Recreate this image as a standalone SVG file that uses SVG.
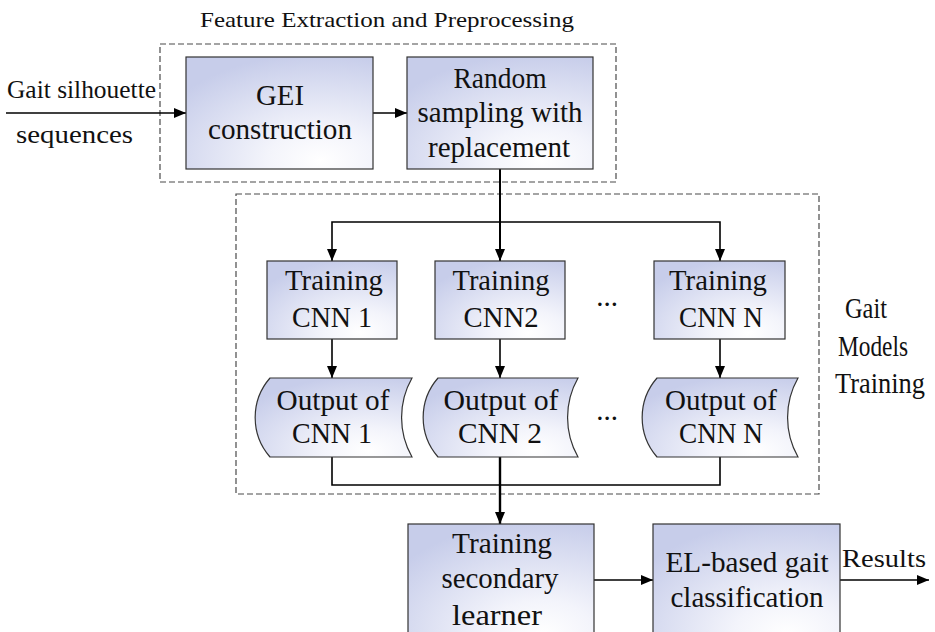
<svg xmlns="http://www.w3.org/2000/svg" width="935" height="632" viewBox="0 0 935 632">
<style>
  text { font-family: "Liberation Serif", "Times New Roman", serif; fill: #111; }
  .bt { font-size: 29px; text-anchor: middle; }
  .lbl { font-size: 26px; }
  .rl { font-size: 29px; text-anchor: middle; }
  .ttl { font-size: 21px; }
  .box { fill: url(#g); stroke: #333; stroke-width: 1.2; }
  .dash { fill: none; stroke: #4a4a4a; stroke-width: 1.2; stroke-dasharray: 6 3; }
  .ln { fill: none; stroke: #000; stroke-width: 1.6; }
  .ar { fill: none; stroke: #000; stroke-width: 1.6; marker-end: url(#ah); }
</style>
<defs>
  <radialGradient id="g" cx="0.72" cy="0.92" r="0.95" fx="0.72" fy="0.92">
    <stop offset="0" stop-color="#ffffff"/>
    <stop offset="0.3" stop-color="#f3f4fb"/>
    <stop offset="1" stop-color="#c7cdea"/>
  </radialGradient>
  <marker id="ah" viewBox="0 0 12 10" refX="12" refY="5" markerWidth="12" markerHeight="10" markerUnits="userSpaceOnUse" orient="auto">
    <path d="M0,0 L12,5 L0,10 Z" fill="#000"/>
  </marker>
</defs>

<g id="group-feature">
  <rect class="dash" x="160" y="44" width="456" height="138"/>
  <text class="ttl" x="200" y="27" textLength="374" lengthAdjust="spacingAndGlyphs">Feature Extraction and Preprocessing</text>
</g>
<g id="group-training">
  <rect class="dash" x="236" y="194" width="583" height="300"/>
  <text class="rl" x="866" y="318" textLength="42" lengthAdjust="spacingAndGlyphs">Gait</text>
  <text class="rl" x="873" y="356" textLength="70" lengthAdjust="spacingAndGlyphs">Models</text>
  <text class="rl" x="880" y="393" textLength="90" lengthAdjust="spacingAndGlyphs">Training</text>
</g>

<g id="input-label">
  <text class="lbl" x="7" y="98" textLength="149" lengthAdjust="spacingAndGlyphs">Gait silhouette</text>
  <text class="lbl" x="16" y="143" textLength="117" lengthAdjust="spacingAndGlyphs">sequences</text>
</g>

<g id="connectors">
  <line class="ar" x1="6" y1="113" x2="186" y2="113"/>
  <line class="ar" x1="373" y1="113" x2="407" y2="113"/>
  <line class="ar" x1="500" y1="169" x2="500" y2="261" style="stroke-width:2"/>
  <polyline class="ar" points="500,222 332,222 332,261"/>
  <polyline class="ar" points="500,222 720,222 720,261"/>
  <line class="ar" x1="332" y1="339" x2="332" y2="378"/>
  <line class="ar" x1="500" y1="339" x2="500" y2="378"/>
  <line class="ar" x1="720" y1="339" x2="720" y2="378"/>
  <polyline class="ln" points="332,457 332,485 720,485 720,457"/>
  <line class="ar" x1="500" y1="457" x2="500" y2="524" style="stroke-width:2.4"/>
  <line class="ar" x1="594" y1="580" x2="653" y2="580"/>
  <line class="ar" x1="840" y1="580" x2="929" y2="580"/>
</g>

<g id="gei">
  <rect class="box" x="186" y="57" width="187" height="112"/>
  <text class="bt" x="280" y="105" textLength="48" lengthAdjust="spacingAndGlyphs">GEI</text>
  <text class="bt" x="280" y="138.5" textLength="144" lengthAdjust="spacingAndGlyphs">construction</text>
</g>
<g id="random">
  <rect class="box" x="407" y="57" width="186" height="112"/>
  <text class="bt" x="500" y="87.5" textLength="93" lengthAdjust="spacingAndGlyphs">Random</text>
  <text class="bt" x="500" y="122" textLength="165" lengthAdjust="spacingAndGlyphs">sampling with</text>
  <text class="bt" x="499" y="156.5" textLength="142" lengthAdjust="spacingAndGlyphs">replacement</text>
</g>

<g id="train1">
  <rect class="box" x="267" y="261" width="130" height="78"/>
  <text class="bt" x="334" y="290" textLength="98" lengthAdjust="spacingAndGlyphs">Training</text>
  <text class="bt" x="332" y="326.5" textLength="80" lengthAdjust="spacingAndGlyphs">CNN 1</text>
</g>
<g id="train2">
  <rect class="box" x="435" y="261" width="130" height="78"/>
  <text class="bt" x="501" y="290" textLength="97" lengthAdjust="spacingAndGlyphs">Training</text>
  <text class="bt" x="501" y="326.5" textLength="75" lengthAdjust="spacingAndGlyphs">CNN2</text>
</g>
<g id="trainN">
  <rect class="box" x="654" y="261" width="131" height="78"/>
  <text class="bt" x="718" y="290" textLength="98" lengthAdjust="spacingAndGlyphs">Training</text>
  <text class="bt" x="721" y="326.5" textLength="84" lengthAdjust="spacingAndGlyphs">CNN N</text>
</g>
<g id="dots-top"><text class="bt" x="607" y="306">...</text></g>

<g id="out1">
  <path class="box" d="M270,378 H412 A80,80 0 0,0 412,457 H270 A60,60 0 0,1 270,378 Z"/>
  <text class="bt" x="333" y="410" textLength="113" lengthAdjust="spacingAndGlyphs">Output of</text>
  <text class="bt" x="332" y="443" textLength="80" lengthAdjust="spacingAndGlyphs">CNN 1</text>
</g>
<g id="out2">
  <path class="box" d="M438,378 H578 A80,80 0 0,0 578,457 H438 A60,60 0 0,1 438,378 Z"/>
  <text class="bt" x="501" y="410" textLength="115" lengthAdjust="spacingAndGlyphs">Output of</text>
  <text class="bt" x="500" y="443" textLength="84" lengthAdjust="spacingAndGlyphs">CNN 2</text>
</g>
<g id="outN">
  <path class="box" d="M657,378 H798 A80,80 0 0,0 798,457 H657 A60,60 0 0,1 657,378 Z"/>
  <text class="bt" x="721" y="410" textLength="112" lengthAdjust="spacingAndGlyphs">Output of</text>
  <text class="bt" x="721" y="443" textLength="84" lengthAdjust="spacingAndGlyphs">CNN N</text>
</g>
<g id="dots-bottom"><text class="bt" x="607" y="420">...</text></g>

<g id="secondary">
  <rect class="box" x="408" y="524" width="186" height="120"/>
  <text class="bt" x="502" y="553" textLength="100" lengthAdjust="spacingAndGlyphs">Training</text>
  <text class="bt" x="500" y="588" textLength="117" lengthAdjust="spacingAndGlyphs">secondary</text>
  <text class="bt" x="497" y="625" textLength="90" lengthAdjust="spacingAndGlyphs">learner</text>
</g>
<g id="el">
  <rect class="box" x="653" y="524" width="187" height="120"/>
  <text class="bt" x="747" y="572" textLength="163" lengthAdjust="spacingAndGlyphs">EL-based gait</text>
  <text class="bt" x="747" y="607" textLength="153" lengthAdjust="spacingAndGlyphs">classification</text>
</g>
<g id="results-label">
  <text class="lbl" x="842" y="567" textLength="84" lengthAdjust="spacingAndGlyphs">Results</text>
</g>
</svg>
